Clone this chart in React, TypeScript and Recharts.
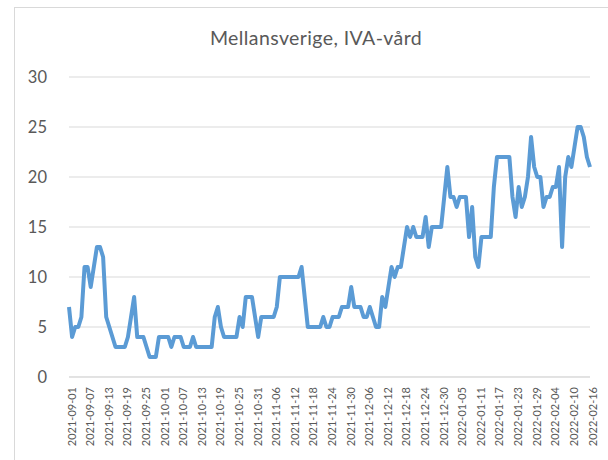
import React from 'react';
import { LineChart, Line, XAxis, YAxis, CartesianGrid } from 'recharts';

const title = 'Mellansverige, IVA-vård';
const firstDay = '2021-09-01';
const dayCount = 169;

const ivaValues = [
  7, 4, 5, 5, 6, 11, 11, 9, 11, 13, 13, 12, 6, 5, 4, 3, 3, 3, 3, 4,
  6, 8, 4, 4, 4, 3, 2, 2, 2, 4, 4, 4, 4, 3, 4, 4, 4, 3, 3, 3,
  4, 3, 3, 3, 3, 3, 3, 6, 7, 5, 4, 4, 4, 4, 4, 6, 5, 8, 8, 8,
  6, 4, 6, 6, 6, 6, 6, 7, 10, 10, 10, 10, 10, 10, 10, 11, 8, 5, 5, 5,
  5, 5, 6, 5, 5, 6, 6, 6, 7, 7, 7, 9, 7, 7, 7, 6, 6, 7, 6, 5,
  5, 8, 7, 9, 11, 10, 11, 11, 13, 15, 14, 15, 14, 14, 14, 16, 13, 15, 15, 15,
  15, 18, 21, 18, 18, 17, 18, 18, 18, 14, 17, 12, 11, 14, 14, 14, 14, 19, 22, 22,
  22, 22, 22, 18, 16, 19, 17, 18, 20, 24, 21, 20, 20, 17, 18, 18, 19, 19, 21, 13,
  20, 22, 21, 23, 25, 25, 24, 22, 21,
];

const xTickLabels = [
  '2021-09-01', '2021-09-07', '2021-09-13', '2021-09-19', '2021-09-25',
  '2021-10-01', '2021-10-07', '2021-10-13', '2021-10-19', '2021-10-25',
  '2021-10-31', '2021-11-06', '2021-11-12', '2021-11-18', '2021-11-24',
  '2021-11-30', '2021-12-06', '2021-12-12', '2021-12-18', '2021-12-24',
  '2021-12-30', '2022-01-05', '2022-01-11', '2022-01-17', '2022-01-23',
  '2022-01-29', '2022-02-04', '2022-02-10', '2022-02-16',
];

const yTicks = [0, 5, 10, 15, 20, 25, 30];

function buildDates(start: string, n: number): string[] {
  const base = new Date(start + 'T00:00:00Z').getTime();
  const out: string[] = [];
  for (let i = 0; i < n; i++) {
    out.push(new Date(base + i * 86400000).toISOString().slice(0, 10));
  }
  return out;
}

const dates = buildDates(firstDay, dayCount);
const data = dates.map((d, i) => ({ date: d, value: ivaValues[i] }));

const FONT = 'Lato, "Open Sans", "Liberation Sans", sans-serif';
const TEXT = '#595959';
const GRID = '#D9D9D9';

const XTick = (props: any) => {
  const { x, y, payload } = props;
  const tx = x + 2;
  return (
    <text
      x={tx}
      y={y}
      transform={`rotate(-90 ${tx} ${y})`}
      textAnchor="end"
      dominantBaseline="central"
      fill={TEXT}
      fontSize={11}
      fontFamily={FONT}
    >
      {payload.value}
    </text>
  );
};

export default function App() {
  return (
    <div style={{ position: 'absolute', left: 0, top: 0, width: 608, height: 460, overflow: 'hidden', background: '#fff' }}>
      <div
        style={{
          position: 'absolute',
          left: 14,
          top: 7,
          width: 700,
          height: 600,
          borderLeft: `1px solid ${GRID}`,
          borderTop: `1px solid ${GRID}`,
        }}
      />
      <div
        style={{
          position: 'absolute',
          left: 0,
          top: 26,
          width: 632,
          textAlign: 'center',
          fontFamily: FONT,
          fontSize: 19.5,
          letterSpacing: 0.4,
          color: TEXT,
        }}
      >
        {title}
      </div>
      <div style={{ position: 'absolute', left: 0, top: 0 }}>
        <LineChart width={608} height={460} data={data} margin={{ top: 77, right: 18, bottom: 0, left: 9 }}>
          <CartesianGrid vertical={false} stroke={GRID} strokeWidth={1} />
          <XAxis
            dataKey="date"
            ticks={xTickLabels}
            interval={0}
            height={83}
            tickLine={false}
            tickSize={6}
            tickMargin={4}
            axisLine={{ stroke: GRID }}
            tick={<XTick />}
          />
          <YAxis
            domain={[0, 30]}
            ticks={yTicks}
            width={60}
            axisLine={false}
            tickLine={false}
            tickSize={6}
            tickMargin={16}
            tick={{ fill: TEXT, fontSize: 16.5, fontFamily: FONT }}
          />
          <Line
            type="linear"
            dataKey="value"
            stroke="#5B9BD5"
            strokeWidth={4}
            dot={false}
            strokeLinejoin="round"
            isAnimationActive={false}
          />
        </LineChart>
      </div>
    </div>
  );
}
